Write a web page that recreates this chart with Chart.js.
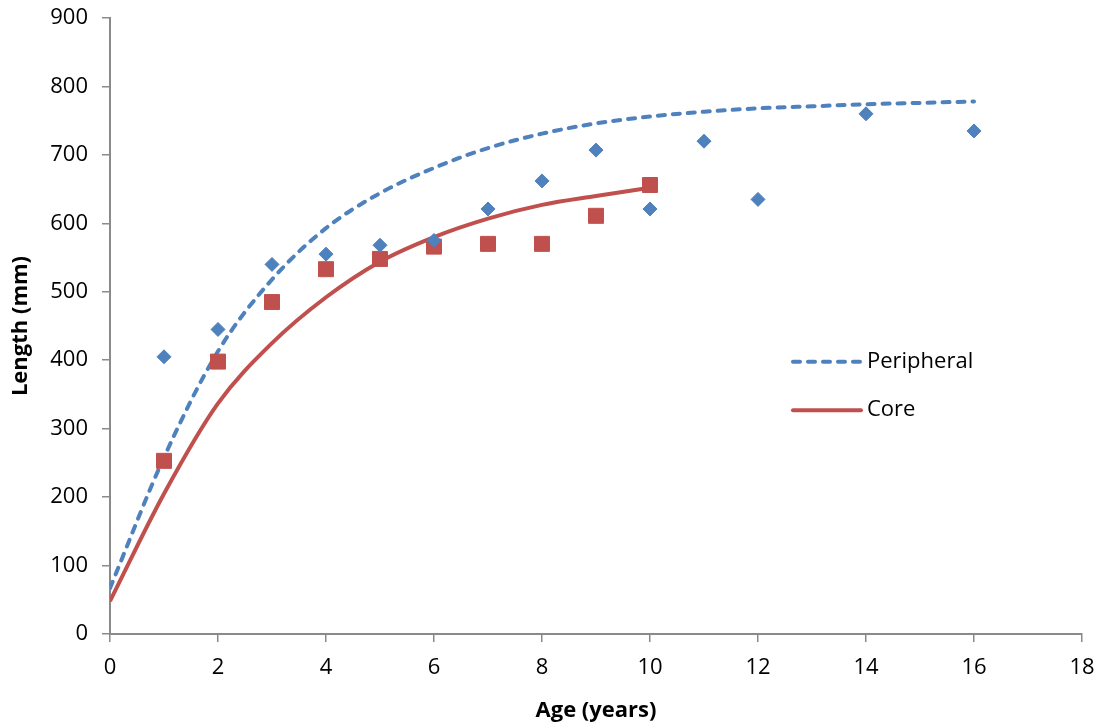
<!DOCTYPE html>
<html>
<head>
<meta charset="utf-8">
<script src="https://cdn.jsdelivr.net/npm/chart.js@4/dist/chart.umd.min.js"></script>
<style>
  html, body { margin: 0; padding: 0; background: #ffffff; }
  #wrap { width: 1104px; height: 728px; }
</style>
</head>
<body>
<div id="wrap"><canvas id="growth-chart" width="1104" height="728"></canvas></div>
<script>
// Observed length-at-age, peripheral sites
const periphAges = [1, 2, 3, 4, 5, 6, 7, 8, 9, 10, 11, 12, 14, 16];
const periphLengths = [405, 445, 540, 555, 568, 575, 621, 662, 707, 621, 720, 635, 760, 735];

// Observed length-at-age, core sites
const coreAges = [1, 2, 3, 4, 5, 6, 7, 8, 9, 10];
const coreLengths = [253, 398, 485, 533, 548, 566, 570, 570, 611, 656];

// Fitted growth curves
const periphFitAges = [0, 1, 2, 3, 4, 5, 6, 7, 8, 9, 10, 11, 12, 13, 14, 15, 16];
const periphFit = [67, 258, 413, 518, 593, 644, 681, 710, 731, 746, 756, 763, 768, 771, 774, 776, 778];
const coreFitAges = [0, 1, 2, 3, 4, 5, 6, 7, 8, 9, 10];
const coreFit = [48, 205, 337, 425, 492, 544, 580, 607, 627, 640, 652];

// Axis ticks
const xTicks = [0, 2, 4, 6, 8, 10, 12, 14, 16, 18];
const yTicks = [0, 100, 200, 300, 400, 500, 600, 700, 800, 900];

const BLUE = "#4F81BD";
const RED = "#C0504D";
const AXIS = "#8A8A8A";

function toPoints(xs, ys) {
  return xs.map((x, i) => ({ x: x, y: ys[i] }));
}

Chart.defaults.font.family = "'Open Sans', 'Liberation Sans', sans-serif";
Chart.defaults.color = "#000000";

// Legend with only the two fitted lines, drawn inside the plot
const lineLegend = {
  id: "lineLegend",
  afterDatasetsDraw(chart) {
    const { ctx, chartArea } = chart;
    const items = chart.data.datasets.filter((d) => d.inLegend);
    const x0 = chartArea.left + chartArea.width * 0.7006;
    ctx.save();
    items.forEach((d, i) => {
      const y = chartArea.top + chartArea.height * (0.558 + i * 0.0787);
      ctx.beginPath();
      ctx.lineWidth = d.borderWidth;
      ctx.strokeStyle = d.borderColor;
      ctx.lineCap = "round";
      ctx.setLineDash(d.borderDash || []);
      ctx.moveTo(x0 + 2, y);
      ctx.lineTo(x0 + 70, y);
      ctx.stroke();
      ctx.setLineDash([]);
      ctx.fillStyle = "#000000";
      ctx.font = "22px 'Open Sans', sans-serif";
      ctx.textBaseline = "middle";
      ctx.textAlign = "left";
      ctx.fillText(d.label, x0 + 76, y);
    });
    ctx.restore();
  },
};

const ctx = document.getElementById("growth-chart").getContext("2d");
const growthChart = new Chart(ctx, {
  type: "scatter",
  data: {
    datasets: [
      {
        label: "Peripheral data",
        data: toPoints(periphAges, periphLengths),
        pointStyle: "rectRot",
        pointRadius: 7,
        pointBackgroundColor: BLUE,
        pointBorderColor: BLUE,
        pointBorderWidth: 1,
        order: 0,
      },
      {
        label: "Core data",
        data: toPoints(coreAges, coreLengths),
        pointStyle: "rect",
        pointRadius: 10.6,
        pointBackgroundColor: RED,
        pointBorderColor: RED,
        pointBorderWidth: 1,
        order: 1,
      },
      {
        label: "Peripheral",
        inLegend: true,
        data: toPoints(periphFitAges, periphFit),
        showLine: true,
        pointRadius: 0,
        borderColor: BLUE,
        borderWidth: 4,
        borderDash: [7, 8],
        borderCapStyle: "round",
        cubicInterpolationMode: "monotone",
        order: 2,
      },
      {
        label: "Core",
        inLegend: true,
        data: toPoints(coreFitAges, coreFit),
        showLine: true,
        pointRadius: 0,
        borderColor: RED,
        borderWidth: 4,
        cubicInterpolationMode: "monotone",
        order: 3,
      },
    ],
  },
  options: {
    responsive: false,
    animation: false,
    layout: { padding: { top: 18, right: 22, left: 0, bottom: 0 } },
    plugins: {
      legend: { display: false },
      tooltip: { enabled: false },
    },
    scales: {
      x: {
        type: "linear",
        min: 0,
        max: 18,
        afterFit(scale) {
          scale.height = 94;
          scale.paddingLeft = 0;
          scale.paddingRight = 0;
        },
        afterBuildTicks(scale) { scale.ticks = xTicks.map((v) => ({ value: v })); },
        ticks: { font: { size: 22 }, padding: 13, color: "#000000" },
        grid: { drawOnChartArea: false, drawTicks: true, tickLength: 8, color: AXIS, lineWidth: 1.5 },
        border: { color: AXIS, width: 2 },
        title: {
          display: true,
          text: "Age (years)",
          font: { size: 22, weight: "bold" },
          padding: { top: 0, bottom: 4 },
          color: "#000000",
        },
      },
      y: {
        type: "linear",
        min: 0,
        max: 900,
        afterFit(scale) {
          scale.width = 110;
          scale.paddingTop = 0;
          scale.paddingBottom = 0;
        },
        afterBuildTicks(scale) { scale.ticks = yTicks.map((v) => ({ value: v })); },
        ticks: { font: { size: 22 }, padding: 14, color: "#000000" },
        grid: { drawOnChartArea: false, drawTicks: true, tickLength: 8, color: AXIS, lineWidth: 1.5 },
        border: { color: AXIS, width: 2 },
        title: {
          display: true,
          text: "Length (mm)",
          font: { size: 22, weight: "bold" },
          padding: { top: 8, bottom: 0 },
          color: "#000000",
        },
      },
    },
  },
  plugins: [lineLegend],
});
</script>
</body>
</html>
